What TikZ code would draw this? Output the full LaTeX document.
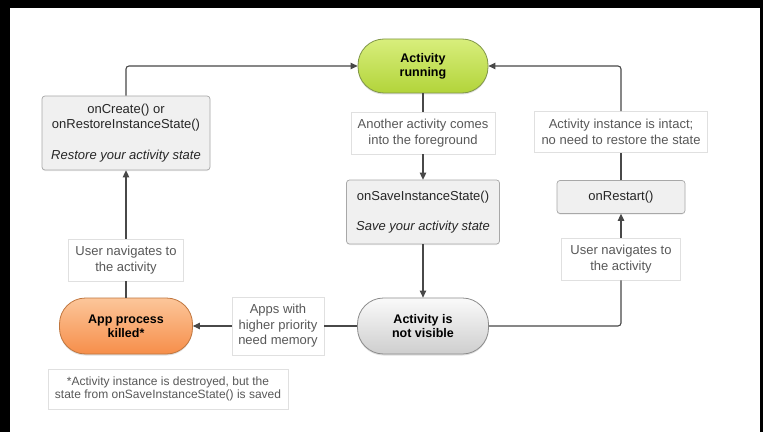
\documentclass[tikz,border=0pt]{standalone}
\usepackage{fontspec}
\setmainfont{Liberation Sans}
\usetikzlibrary{positioning, arrows.meta, shadows}

\definecolor{runtop}{RGB}{216,238,124}
\definecolor{runbot}{RGB}{178,212,58}
\definecolor{runline}{RGB}{128,150,72}
\definecolor{killtop}{RGB}{252,198,154}
\definecolor{killbot}{RGB}{246,142,74}
\definecolor{killline}{RGB}{192,118,62}
\definecolor{hidetop}{RGB}{250,250,250}
\definecolor{hidebot}{RGB}{206,206,206}
\definecolor{hideline}{RGB}{140,140,140}
\definecolor{boxfill}{RGB}{240,240,240}
\definecolor{boxline}{RGB}{168,168,168}
\definecolor{labeltext}{RGB}{88,88,88}
\definecolor{flowline}{RGB}{72,72,72}

\tikzset{
    pill/.style={draw, line width=0.8pt, rounded corners=26pt,
        minimum width=130pt, minimum height=54pt, align=center,
        font=\fontsize{12.5}{14}\selectfont\bfseries,
        drop shadow={shadow xshift=0pt, shadow yshift=-1.5pt, opacity=0.25}},
    method/.style={draw=boxline, fill=boxfill, line width=0.7pt, rounded corners=3pt,
        align=center, inner sep=0pt, text=black!85,
        font=\fontsize{13}{15.5}\selectfont,
        drop shadow={shadow xshift=0pt, shadow yshift=-1pt, opacity=0.15}},
    event/.style={draw=black!12, fill=white, line width=0.6pt, align=center,
        inner sep=0pt, text=labeltext, font=\fontsize{13}{15.5}\selectfont},
    flow/.style={draw=flowline, line width=1.1pt, rounded corners=3pt},
    arr/.style={flow, -{Triangle[length=7pt, width=6.5pt]}}
}

\begin{document}
\begin{tikzpicture}[x=1pt, y=1pt]
    \useasboundingbox (0,0) rectangle (763,432);
    \fill[black] (0,0) rectangle (763,432);
    \fill[white] (10,0) rectangle (760,424);

    % states
    \node[pill, draw=runline, top color=runtop, bottom color=runbot] (run) at (423,366) {Activity\\running};
    \node[pill, draw=killline, top color=killtop, bottom color=killbot, minimum width=133pt, minimum height=56pt] (killed) at (126,106) {App process\\killed*};
    \node[pill, draw=hideline, top color=hidetop, bottom color=hidebot, minimum width=131pt, minimum height=56pt] (notvis) at (423,106) {Activity is\\not visible};

    % callbacks
    \node[method, minimum width=168pt, minimum height=74pt] (create) at (126,299)
        {onCreate() or\\onRestoreInstanceState()\\[15pt]\textit{Restore your activity state}};
    \node[method, minimum width=153pt, minimum height=64pt] (save) at (423,220)
        {onSaveInstanceState()\\[14.5pt]\textit{Save your activity state}};
    \node[method, minimum width=128pt, minimum height=33pt] (restart) at (621,235) {onRestart()};

    % events
    \node[event, minimum width=144pt, minimum height=42pt] (another) at (423,299) {Another activity comes\\into the foreground};
    \node[event, minimum width=173pt, minimum height=41pt] (intact) at (621,300) {Activity instance is intact;\\no need to restore the state};
    \node[event, minimum width=119pt, minimum height=42pt] (userR) at (621,173) {User navigates to\\the activity};
    \node[event, minimum width=115pt, minimum height=42pt] (userL) at (126,172) {User navigates to\\the activity};
    \node[event, minimum width=92pt, minimum height=58pt] (apps) at (278,106) {Apps with\\higher priority\\need memory};
    \node[event, minimum width=240pt, minimum height=40pt, font=\fontsize{12}{13.5}\selectfont] (note) at (168,43)
        {*Activity instance is destroyed, but the\\state from onSaveInstanceState() is saved};

    % transitions
    \draw[arr] (create.north) |- (run.west);
    \draw[flow] (run.south) -- (another.north);
    \draw[arr] (another.south) -- (save.north);
    \draw[arr] (save.south) -- (notvis.north);
    \draw[flow] (notvis.west) -- (apps.east);
    \draw[arr] (apps.west) -- (killed.east);
    \draw[flow] (killed.north) -- (userL.south);
    \draw[arr] (userL.north) -- (create.south);
    \draw[flow] (notvis.east) -| (userR.south);
    \draw[arr] (userR.north) -- (restart.south);
    \draw[flow] (restart.north) -- (intact.south);
    \draw[arr] (intact.north) |- (run.east);
\end{tikzpicture}
\end{document}
